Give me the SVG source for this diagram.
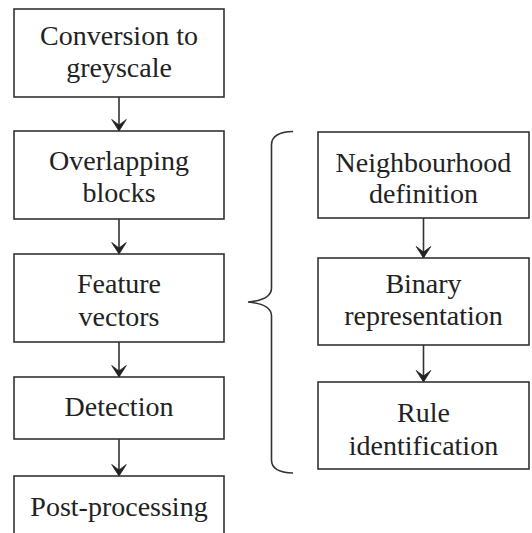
<svg xmlns="http://www.w3.org/2000/svg" width="532" height="533" viewBox="0 0 532 533">
<defs>
<style>
.box{fill:#fff;stroke:#333;stroke-width:1.6}
.t{font-family:Liberation Serif,DejaVu Serif,serif;font-size:28px;fill:#222;text-anchor:middle}
.c{stroke:#333;stroke-width:1.6;fill:none}
</style>
<marker id="ah" viewBox="-12.5 -8.5 13.5 17" refX="0" refY="0" markerWidth="13.5" markerHeight="17" markerUnits="userSpaceOnUse" orient="auto">
<path d="M0,0 L-11.5,-7.3 L-6,0 L-11.5,7.3 Z" fill="#222" stroke="#222" stroke-width="0.8"/>
</marker>
</defs>
<rect width="532" height="533" fill="#fff"/>
<g id="connectors">
<line class="c" x1="119" y1="97" x2="119" y2="131" marker-end="url(#ah)"/>
<line class="c" x1="119" y1="219" x2="119" y2="254" marker-end="url(#ah)"/>
<line class="c" x1="119" y1="342" x2="119" y2="377" marker-end="url(#ah)"/>
<line class="c" x1="119" y1="439" x2="119" y2="476" marker-end="url(#ah)"/>
<line class="c" x1="423.5" y1="218" x2="423.5" y2="258" marker-end="url(#ah)"/>
<line class="c" x1="423.5" y1="345" x2="423.5" y2="382" marker-end="url(#ah)"/>
<path class="c" d="M293,131.5 Q271.5,132 271.5,145 L271.5,288 Q271.5,300 248,302 Q271.5,304 271.5,316 L271.5,460 Q271.5,472.5 293,473"/>
</g>
<g id="n1"><rect class="box" x="14" y="9" width="210" height="88"/><text class="t" x="119" y="45">Conversion to</text><text class="t" x="119" y="77">greyscale</text></g>
<g id="n2"><rect class="box" x="14" y="131" width="210" height="88"/><text class="t" x="119" y="170">Overlapping</text><text class="t" x="119" y="202">blocks</text></g>
<g id="n3"><rect class="box" x="14" y="254" width="210" height="88"/><text class="t" x="119" y="293">Feature</text><text class="t" x="119" y="326">vectors</text></g>
<g id="n4"><rect class="box" x="14" y="377" width="210" height="62"/><text class="t" x="119" y="416">Detection</text></g>
<g id="n5"><rect class="box" x="14" y="476" width="210" height="70"/><text class="t" x="119" y="516">Post-processing</text></g>
<g id="r1"><rect class="box" x="318" y="132" width="211" height="86"/><text class="t" x="423.5" y="172">Neighbourhood</text><text class="t" x="423.5" y="203">definition</text></g>
<g id="r2"><rect class="box" x="318" y="258" width="211" height="87"/><text class="t" x="423.5" y="293">Binary</text><text class="t" x="423.5" y="325">representation</text></g>
<g id="r3"><rect class="box" x="318" y="382" width="211" height="87"/><text class="t" x="423.5" y="422">Rule</text><text class="t" x="423.5" y="455">identification</text></g>
</svg>
